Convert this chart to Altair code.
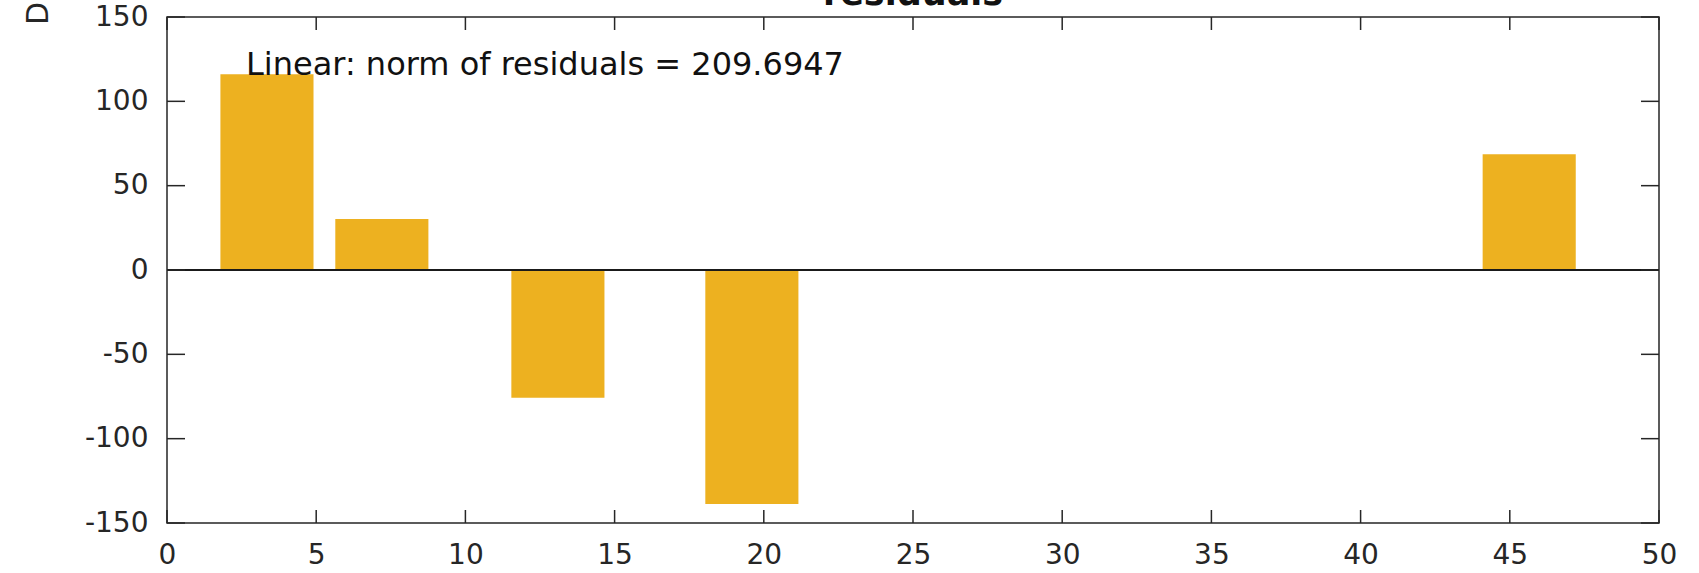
import altair as alt
import pandas as pd

# Residuals of the linear fit, one bar per sample
x_pos = [3.35, 7.2, 13.1, 19.6, 45.65]
residuals = [116.0, 30.2, -75.7, -138.7, 68.6]
bar_width = 3.12

x_ticks = list(range(0, 51, 5))
y_ticks = list(range(-150, 151, 50))
norm_text = "Linear: norm of residuals = 209.6947"
title_text = "residuals"

W, H = 1492, 506
AX = "#262626"
FONT = "DejaVu Sans"

xs = alt.Scale(domain=[0, 50], nice=False, zero=False)
ys = alt.Scale(domain=[-150, 150], nice=False, zero=False)

# shared axis definitions, used by every layer so the merged axes agree
x_axis = alt.Axis(
    values=x_ticks,
    title=None,
    labelPadding=18,
    labelFlush=False,
    labelOverlap=False,
)
y_axis = alt.Axis(
    values=y_ticks,
    title="D",
    titleAngle=270,
    titleX=-120,
    titleY=-4,
    titleAlign="center",
    titleBaseline="alphabetic",
    titleFontSize=30,
    titleFont=FONT,
    titleFontWeight="normal",
    titleColor=AX,
    labelPadding=19,
    labelExpr="'' + datum.value",
    labelFlush=False,
    labelOverlap=False,
)

bars_df = pd.DataFrame({"x": x_pos, "r": residuals})

bars = (
    alt.Chart(bars_df)
    .transform_calculate(
        x0=f"datum.x - {bar_width / 2}",
        x1=f"datum.x + {bar_width / 2}",
        base="0",
    )
    .mark_bar(color="#EDB120", stroke=None)
    .encode(
        x=alt.X("x0:Q", scale=xs, axis=x_axis),
        x2="x1:Q",
        y=alt.Y("r:Q", scale=ys, axis=y_axis),
        y2="base:Q",
    )
)

# baseline of the bars
zero_line = (
    alt.Chart(pd.DataFrame({"y": [0]}))
    .mark_rule(color="#1a1a1a", strokeWidth=2)
    .encode(y=alt.Y("y:Q", scale=ys, axis=y_axis))
)

# inward tick marks on all four sides of the box
xt = pd.DataFrame({"t": x_ticks})
yt = pd.DataFrame({"t": y_ticks})
tick_style = dict(color=AX, strokeWidth=1.5)

ticks_bottom = alt.Chart(xt).mark_rule(**tick_style).encode(
    x=alt.X("t:Q", scale=xs, axis=x_axis), y=alt.value(H), y2=alt.value(H - 13)
)
ticks_top = alt.Chart(xt).mark_rule(**tick_style).encode(
    x=alt.X("t:Q", scale=xs, axis=x_axis), y=alt.value(0), y2=alt.value(13)
)
ticks_left = alt.Chart(yt).mark_rule(**tick_style).encode(
    y=alt.Y("t:Q", scale=ys, axis=y_axis), x=alt.value(0), x2=alt.value(18)
)
ticks_right = alt.Chart(yt).mark_rule(**tick_style).encode(
    y=alt.Y("t:Q", scale=ys, axis=y_axis), x=alt.value(W - 18), x2=alt.value(W)
)

note = (
    alt.Chart(pd.DataFrame({"label": [norm_text]}))
    .mark_text(align="left", baseline="middle", fontSize=32, font=FONT, color="#111111")
    .encode(x=alt.value(79), y=alt.value(48), text="label:N")
)

# plot title, sitting right at the top edge of the figure
heading = (
    alt.Chart(pd.DataFrame({"label": [title_text]}))
    .mark_text(
        align="center",
        baseline="alphabetic",
        fontSize=35,
        fontWeight="bold",
        font=FONT,
        color="#111111",
    )
    .encode(x=alt.value(W / 2), y=alt.value(-12), text="label:N")
)

chart = (
    alt.layer(
        bars, zero_line, ticks_bottom, ticks_top, ticks_left, ticks_right, note, heading
    )
    .properties(
        width=W,
        height=H,
        autosize=alt.AutoSizeParams(type="none"),
        padding={"left": 167, "top": 17, "right": 40, "bottom": 50},
        background="white",
    )
    .configure_view(stroke=AX, strokeWidth=1.5)
    .configure_axis(
        domain=False,
        ticks=False,
        tickSize=0,
        grid=False,
        labelFont=FONT,
        labelFontSize=28,
        labelColor=AX,
    )
)

chart.save("out.html", embed_options={"renderer": "svg", "actions": False})
